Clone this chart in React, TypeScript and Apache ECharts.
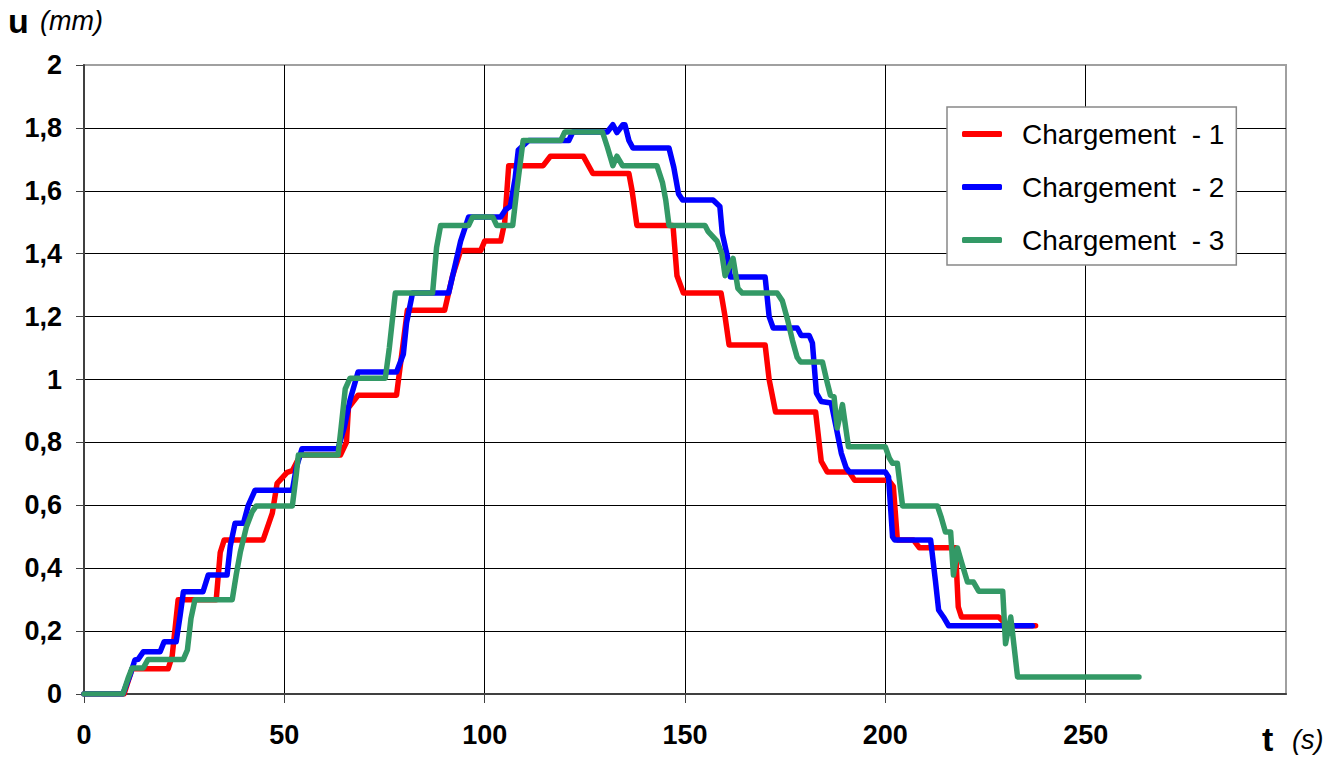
import React, { useEffect, useRef } from "react";
import * as echarts from "echarts";

const seriesNames = ["Chargement  - 1", "Chargement  - 2", "Chargement  - 3"];
const seriesColors = ["#ff0000", "#0000ff", "#339966"];

// t (s), u (mm)
const charge1: number[][] = [
  [0, 0], [10, 0], [12, 0.08], [21, 0.08], [22, 0.12], [23.5, 0.3], [33, 0.3], [34, 0.45], [35, 0.49],
  [44.7, 0.49], [47, 0.575], [48.2, 0.67], [50.7, 0.705], [52, 0.71], [54, 0.76], [64, 0.76], [65.5, 0.8],
  [66, 0.91], [68.4, 0.95], [78, 0.95], [79, 1.05], [80.7, 1.22], [90, 1.22], [92, 1.33], [94, 1.41],
  [99, 1.41], [100, 1.44], [104, 1.44], [105, 1.5], [106, 1.68], [114.6, 1.68], [116.4, 1.71], [124.6, 1.71],
  [127, 1.655], [136, 1.655], [136.8, 1.6], [138, 1.49], [147, 1.49], [148, 1.33], [149.6, 1.275],
  [159, 1.275], [160, 1.2], [161, 1.11], [170, 1.11], [171, 1.0], [172.6, 0.897], [182.6, 0.897],
  [184, 0.74], [185.5, 0.706], [191, 0.706], [192.3, 0.68], [200.8, 0.68], [202, 0.66], [203, 0.49],
  [207, 0.49], [208.5, 0.465], [217.5, 0.465], [218.2, 0.277], [219, 0.245], [228.3, 0.245], [229.5, 0.23],
  [230.8, 0.217], [237.5, 0.217],
];

const charge2: number[][] = [
  [0, 0], [9.7, 0], [11.5, 0.06], [12.7, 0.108], [13.5, 0.11], [14.8, 0.134], [19, 0.134], [20, 0.166],
  [23, 0.166], [24, 0.25], [24.8, 0.325], [29.7, 0.325], [31, 0.378], [35.7, 0.378], [36.5, 0.47],
  [37.7, 0.543], [39.8, 0.543], [41, 0.6], [42.7, 0.648], [52, 0.648], [53, 0.72], [54.4, 0.78],
  [63.4, 0.78], [65, 0.85], [66.4, 0.935], [68.4, 1.024], [78, 1.024], [79.7, 1.08], [80.5, 1.18],
  [82, 1.275], [91, 1.275], [92.2, 1.34], [94, 1.44], [96, 1.517], [104, 1.517], [105.2, 1.54],
  [106.4, 1.55], [107.6, 1.64], [108.4, 1.73], [111, 1.76], [121, 1.76], [122, 1.787], [130.6, 1.787],
  [132, 1.81], [133, 1.785], [134.5, 1.81], [135, 1.81], [136, 1.76], [137, 1.736], [146, 1.736],
  [147.2, 1.675], [148.4, 1.59], [149.4, 1.571], [157, 1.571], [158.7, 1.55], [159.3, 1.465], [160.6, 1.39],
  [161.3, 1.326], [170, 1.326], [171, 1.2], [172, 1.164], [178, 1.164], [179, 1.14], [181, 1.14],
  [181.8, 1.116], [182.8, 0.957], [184, 0.93], [186.5, 0.925], [187.7, 0.85], [189, 0.766], [190.2, 0.72],
  [191, 0.706], [200, 0.706], [200.8, 0.69], [201.8, 0.5], [202.3, 0.49], [211.3, 0.49], [212.5, 0.36],
  [213.3, 0.267], [214.5, 0.245], [215.8, 0.217], [236.7, 0.217],
];

const charge3: number[][] = [
  [0, 0], [9.7, 0], [11, 0.05], [12, 0.083], [14.8, 0.083], [16, 0.11], [24.8, 0.11], [25.8, 0.14],
  [26.7, 0.24], [27.7, 0.3], [37, 0.3], [38, 0.38], [39, 0.45], [40.5, 0.53], [42, 0.58], [43, 0.598],
  [52, 0.598], [53, 0.7], [53.5, 0.76], [63.4, 0.76], [64.2, 0.85], [65.2, 0.97], [66.4, 1.004],
  [75.2, 1.004], [76.2, 1.1], [77.7, 1.275], [87, 1.275], [88, 1.42], [89, 1.49], [96, 1.49], [97, 1.517],
  [102, 1.517], [103, 1.49], [107, 1.49], [108, 1.6], [109.6, 1.76], [119, 1.76], [120, 1.787],
  [129.4, 1.787], [130.6, 1.74], [132, 1.68], [133, 1.71], [134.4, 1.68], [143, 1.68], [144.4, 1.625],
  [145.2, 1.57], [146, 1.49], [155, 1.49], [155.8, 1.47], [158, 1.44], [159.2, 1.4], [160, 1.33],
  [162, 1.385], [163.2, 1.29], [164.3, 1.275], [173, 1.275], [174.3, 1.25], [175.6, 1.19], [176.8, 1.125],
  [178, 1.07], [178.8, 1.056], [184.3, 1.056], [185.5, 0.99], [186.3, 0.95], [187.2, 0.945], [188, 0.846],
  [189.3, 0.92], [190.8, 0.786], [200, 0.786], [201, 0.75], [201.8, 0.734], [203, 0.734], [204.3, 0.598],
  [213, 0.598], [214, 0.56], [215, 0.515], [216.3, 0.515], [217, 0.378], [218, 0.464], [219, 0.42],
  [220.5, 0.356], [222, 0.356], [223.3, 0.327], [229.3, 0.327], [230, 0.16], [231.3, 0.245], [233, 0.054],
  [263.3, 0.054],
];

const allSeries = [charge1, charge2, charge3];

const xMin = 0;
const xMax = 300;
const xStep = 50;
const yMin = 0;
const yMax = 2;
const yStep = 0.2;

const FONT = "'Liberation Sans', Arial, sans-serif";

export default function App() {
  const ref = useRef<HTMLDivElement | null>(null);

  useEffect(() => {
    if (!ref.current) return;
    const chart = echarts.init(ref.current, undefined, { renderer: "svg" });
    const option: any = {
      animation: false,
      backgroundColor: "#ffffff",
      grid: {
        left: 84,
        right: 49,
        top: 65,
        bottom: 63,
        show: true,
        borderColor: "#a0a0a0",
        borderWidth: 2,
        backgroundColor: "transparent",
      },
      xAxis: {
        type: "value",
        min: xMin,
        max: xMax,
        interval: xStep,
        axisLine: { show: true, onZero: false, lineStyle: { color: "#404040", width: 2 } },
        axisTick: { show: true, inside: false, length: 9, lineStyle: { color: "#404040", width: 1 } },
        axisLabel: {
          margin: 27,
          fontFamily: FONT,
          fontWeight: "bold",
          fontSize: 27,
          lineHeight: 27,
          color: "#000",
          showMaxLabel: false,
          formatter: (v: number) => (v >= xMax ? "" : String(v)),
        },
        splitLine: { show: true, showMinLine: false, showMaxLine: false, lineStyle: { color: "#000", width: 1 } },
      },
      yAxis: {
        type: "value",
        min: yMin,
        max: yMax,
        interval: yStep,
        axisLine: { show: true, onZero: false, lineStyle: { color: "#404040", width: 2 } },
        axisTick: { show: true, inside: false, length: 8, lineStyle: { color: "#404040", width: 1 } },
        axisLabel: {
          margin: 22,
          fontFamily: FONT,
          fontWeight: "bold",
          fontSize: 27,
          color: "#000",
          formatter: (v: number) => String(Math.round(v * 10) / 10).replace(".", ","),
        },
        splitLine: { show: true, showMinLine: false, showMaxLine: false, lineStyle: { color: "#000", width: 1 } },
      },
      legend: {
        show: true,
        orient: "vertical",
        left: 947,
        top: 107,
        padding: [12, 12, 10, 15],
        itemGap: 23,
        itemWidth: 40,
        itemHeight: 6,
        icon: "roundRect",
        backgroundColor: "#ffffff",
        borderColor: "#888888",
        borderWidth: 1.5,
        borderRadius: 0,
        data: seriesNames,
        textStyle: {
          fontFamily: FONT,
          fontSize: 28,
          lineHeight: 30,
          color: "#000",
          padding: [0, 0, 0, 15],
        },
      },
      graphic: [
        {
          type: "text",
          x: 8,
          y: 21,
          style: { text: "u", font: `bold 34px ${FONT}`, fill: "#000", verticalAlign: "middle" },
        },
        {
          type: "text",
          x: 40,
          y: 21,
          style: { text: "(mm)", font: `italic 27px ${FONT}`, fill: "#000", verticalAlign: "middle" },
        },
        {
          type: "text",
          x: 1262,
          y: 739,
          style: { text: "t", font: `bold 34px ${FONT}`, fill: "#000", verticalAlign: "middle" },
        },
        {
          type: "text",
          x: 1292,
          y: 740,
          style: { text: "(s)", font: `italic 27px ${FONT}`, fill: "#000", verticalAlign: "middle" },
        },
      ],
      series: allSeries.map((d, i) => ({
        name: seriesNames[i],
        type: "line",
        data: d,
        symbol: "none",
        color: seriesColors[i],
        lineStyle: { color: seriesColors[i], width: 5.5, cap: "round", join: "round" },
        z: 2 + i,
      })),
    };
    chart.setOption(option);
    return () => chart.dispose();
  }, []);

  return (
    <div
      ref={ref}
      style={{ position: "fixed", left: 0, top: 0, width: 1335, height: 757, background: "#fff" }}
    />
  );
}
